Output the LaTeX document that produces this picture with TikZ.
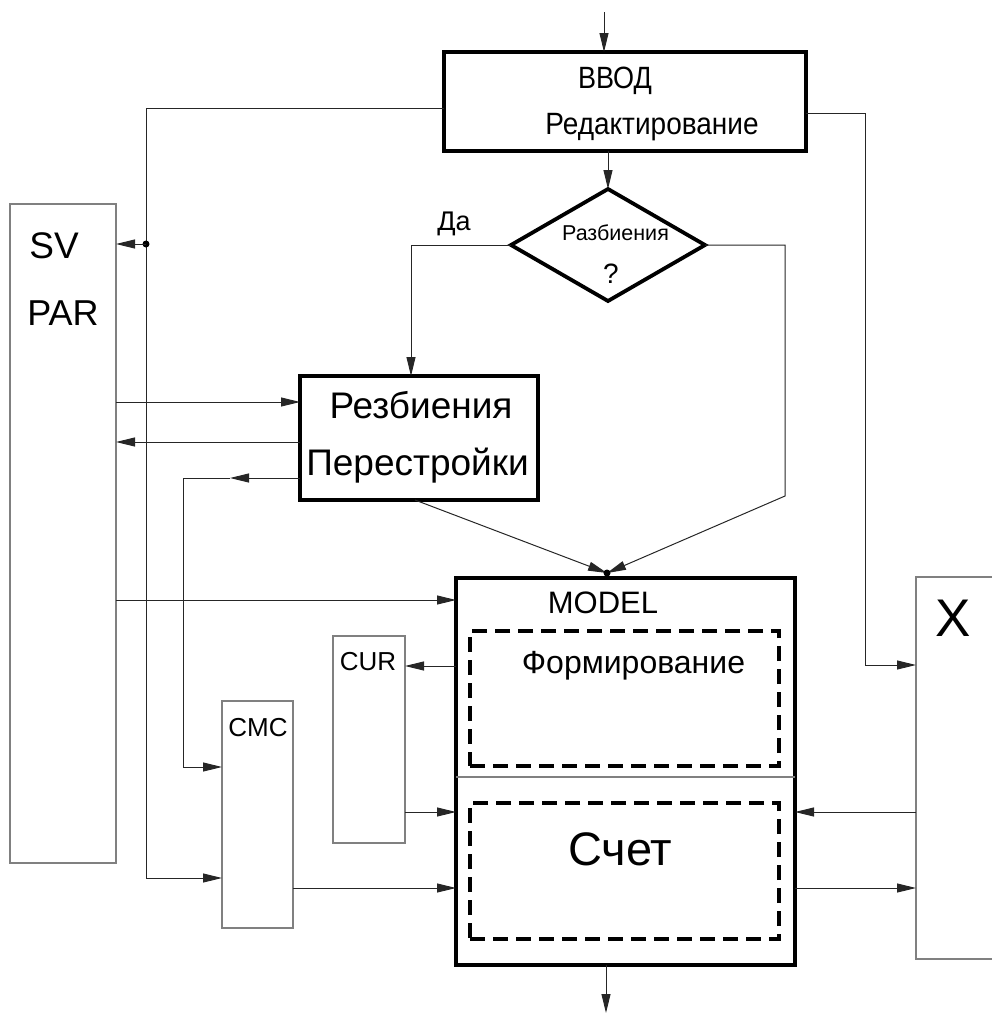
\documentclass[tikz,border=0pt]{standalone}
\usepackage{fontspec}
\setmainfont{Liberation Sans}
\usetikzlibrary{arrows.meta,shapes.geometric}
\begin{document}
\begin{tikzpicture}[x=1pt,y=-1pt,
  arr/.style={line width=1pt,draw=black!85,-{Triangle[length=19pt,width=9pt]}},
  conn/.style={line width=1pt,draw=black!85},
  thickbox/.style={draw,line width=3.8pt,inner sep=0pt,outer sep=0pt},
  thinbox/.style={draw,gray,line width=1.3pt,inner sep=0pt,outer sep=0pt},
  dashbox/.style={draw,line width=3.3pt,dash pattern=on 15pt off 8pt,inner sep=0pt},
  lbl/.style={anchor=base,inner sep=0pt},
]
\useasboundingbox (0,0) rectangle (992,1015);
% boxes
\node[thickbox,minimum width=362pt,minimum height=99pt] (vvod) at (625,101.5) {};
\node[thickbox,diamond,minimum width=194pt,minimum height=112pt] (dia) at (608,245) {};
\node[thickbox,minimum width=238pt,minimum height=124pt] (rez) at (419,438) {};
\node[thinbox,minimum width=106pt,minimum height=659pt] (sv) at (63,533.5) {};
\node[thickbox,minimum width=339pt,minimum height=387pt] (model) at (625.5,771.5) {};
\node[dashbox,minimum width=309pt,minimum height=135pt] (form) at (624.5,698.5) {};
\node[dashbox,minimum width=309pt,minimum height=136pt] (schet) at (624.5,871) {};
\node[thinbox,minimum width=72pt,minimum height=207pt] (cur) at (369,739.5) {};
\node[thinbox,minimum width=71pt,minimum height=227pt] (cmc) at (257.5,814.5) {};
\node[thinbox,minimum width=100pt,minimum height=382pt] (xb) at (966,768) {};
\coordinate (divL) at (456,777);
\coordinate (divR) at (795,777);
\draw[gray,line width=1.3pt] (divL) -- (divR);
% texts
\node[lbl,font=\fontsize{27}{27}\selectfont] (t1) at (615,88) {\scalebox{1}[1.14]{ВВОД}};
\node[lbl,font=\fontsize{28}{28}\selectfont] (t2) at (652,134) {\scalebox{1}[1.1]{Редактирование}};
\node[lbl,font=\fontsize{21.5}{21.5}\selectfont] (t3) at (615.5,240) {Разбиения};
\node[lbl,font=\fontsize{28}{28}\selectfont] (t4) at (611,283) {?};
\node[lbl,font=\fontsize{27}{27}\selectfont] (t5) at (454,230) {Да};
\node[lbl,font=\fontsize{37}{37}\selectfont] (t6) at (421,418) {Резбиения};
\node[lbl,font=\fontsize{37}{37}\selectfont] (t7) at (417.5,475) {Перестройки};
\node[lbl,font=\fontsize{37}{37}\selectfont] (t8) at (54,258) {SV};
\node[lbl,font=\fontsize{36}{36}\selectfont] (t9) at (63,325) {PAR};
\node[lbl,font=\fontsize{31}{31}\selectfont] (t10) at (603,613) {MODEL};
\node[lbl,font=\fontsize{32}{32}\selectfont] (t11) at (633.5,673) {Формирование};
\node[lbl,font=\fontsize{47}{47}\selectfont] (t12) at (620.5,865) {Счет};
\node[lbl,font=\fontsize{26}{26}\selectfont] (t13) at (368,670) {CUR};
\node[lbl,font=\fontsize{26}{26}\selectfont] (t14) at (258,736) {CMC};
\node[lbl,font=\fontsize{53}{53}\selectfont] (t15) at (953,636) {X};
% connectors
\coordinate (in) at (604,12);
\coordinate (out) at (606,1013);
\coordinate (jL) at (146,244);
\coordinate (mdot) at (607,573);
\draw[arr] (in) -- (in |- vvod.north);
\draw[arr] (dia.north |- vvod.south) -- (dia.north);
\draw[conn] (vvod.west |- 0,108) -- (146,108) -- (jL);
\draw[arr] (jL) -- (146,878) -- (cmc.west |- 0,878);
\fill (jL) circle (3.5pt);
\draw[arr] (jL) -- (sv.east |- jL);
\draw[arr] (vvod.east |- 0,113) -- (865,113) -- (865,665) -- (xb.west |- 0,665);
\draw[arr] (dia.west) -| ([xshift=-8pt]rez.north);
\draw[arr] (dia.east) -- (785,245) -- (785,496) -- (mdot);
\draw[arr] ([xshift=-4pt]rez.south) -- (mdot);
\fill (mdot) circle (3.5pt);
\draw[arr] (sv.east |- 0,402) -- (rez.west |- 0,402);
\draw[arr] (rez.west |- 0,442) -- (sv.east |- 0,442);
\draw[arr] (rez.west |- 0,478) -- (230,478);
\draw[arr] (230,478) -- (183,478) -- (183,767) -- (cmc.west |- 0,767);
\draw[arr] (sv.east |- 0,600) -- (model.west |- 0,600);
\draw[arr] (model.west |- 0,666) -- (cur.east |- 0,666);
\draw[arr] (cur.east |- 0,812) -- (model.west |- 0,812);
\draw[arr] (cmc.east |- 0,888) -- (model.west |- 0,888);
\draw[arr] (xb.west |- 0,812) -- (model.east |- 0,812);
\draw[arr] (model.east |- 0,888) -- (xb.west |- 0,888);
\draw[arr] (model.south -| out) -- (out);
\end{tikzpicture}
\end{document}
